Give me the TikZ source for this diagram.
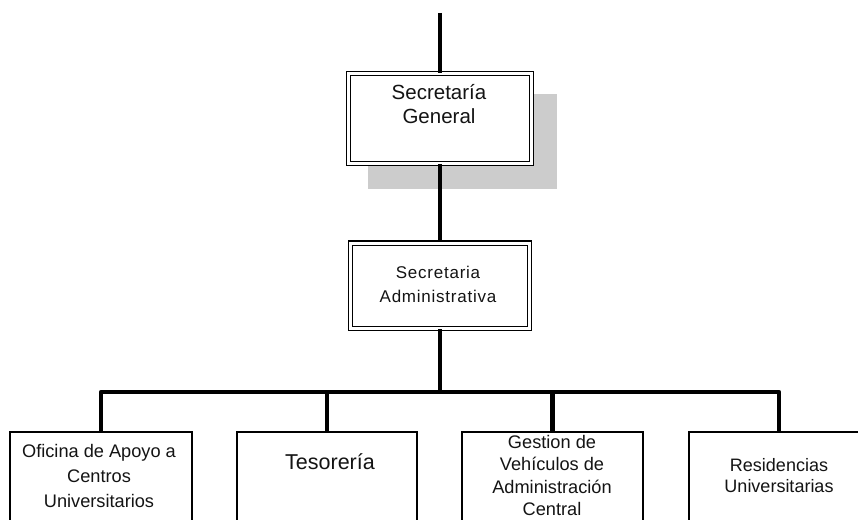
\documentclass[tikz,border=0pt]{standalone}
\usepackage{fontspec}
\setmainfont{Liberation Sans}
\newfontfamily\admfont{Liberation Sans}[LetterSpace=4.5]
\definecolor{shadowgray}{RGB}{204,204,204}
\definecolor{txt}{RGB}{20,20,20}
\newcommand\mlines[3]{{\fontsize{#1}{#2}\selectfont\begin{tabular}[t]{@{}c@{}}#3\end{tabular}}}
\begin{document}
\begin{tikzpicture}[x=1pt,y=-1pt,
  conn/.style={line width=4.8pt, line join=round},
  dbox/.style={draw=black, double=white, double distance=3pt, line width=1.2pt, fill=white, inner sep=0pt},
  cbox/.style={draw=black, line width=1.3pt, fill=white, inner sep=0pt, minimum height=110},
  shadowbox/.style={fill=shadowgray, inner sep=0pt},
  lbl/.style={inner sep=0pt, anchor=base, text=txt}]
\useasboundingbox (0,0) rectangle (858,519);
\clip (0,0) rectangle (858,519);
% shadow
\node[shadowbox, minimum width=189, minimum height=95] (shadow) at (462.5,141.5) {};
% boxes
\node[dbox, minimum width=183, minimum height=90] (sg) at (440,118.5) {};
\node[dbox, minimum width=179, minimum height=85.5] (adm) at (440,285.75) {};
\node[cbox, minimum width=182] (c1) at (101,487) {};
\node[cbox, minimum width=180] (c2) at (327,487) {};
\node[cbox, minimum width=181] (c3) at (552.5,487) {};
\node[cbox, minimum width=180] (c4) at (779,487) {};
% connectors
\coordinate (top) at (440,13);
\coordinate (bus) at (440,392);
\draw[conn] (top) -- (sg.north);
\draw[conn] (sg.south) -- (adm.north);
\draw[conn] (adm.south) -- (bus);
\draw[conn] (c1.north) -- (c1.north |- bus) -- (c4.north |- bus) -- (c4.north);
\draw[conn] (c2.north) -- (c2.north |- bus);
\draw[conn] (c3.north) -- (c3.north |- bus);
% texts
\node[lbl] (sgt) at (439,99) {\mlines{20.5}{24}{Secretaría\\General}};
\node[lbl] (admt) at (438,278) {\admfont\mlines{17}{24}{Secretaria\\Administrativa}};
\node[lbl] (c1t) at (99,457) {\mlines{18.2}{25}{Oficina de Apoyo a\\Centros\\Universitarios}};
\node[lbl] (c2t) at (330,469) {\mlines{21.5}{24}{Tesorería}};
\node[lbl] (c3t) at (552,448) {\mlines{18.2}{22.5}{Gestion de\\Vehículos de\\Administración\\Central}};
\node[lbl] (c4t) at (779,471) {\mlines{18}{21.5}{Residencias\\Universitarias}};
\end{tikzpicture}
\end{document}
